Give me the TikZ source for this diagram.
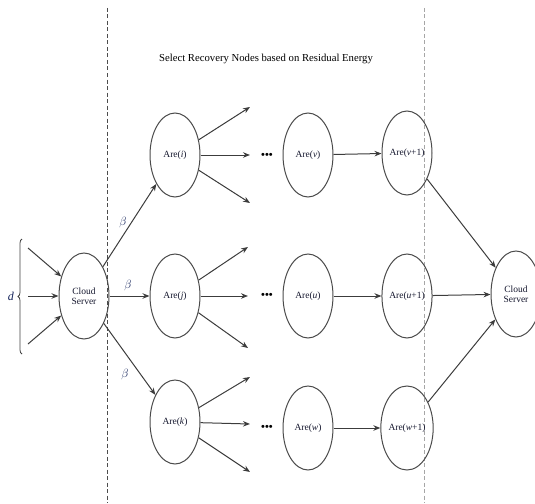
\documentclass[tikz,border=0pt]{standalone}
\usepackage{fontspec}
\setmainfont{Liberation Serif}
\usetikzlibrary{shapes.geometric,arrows.meta,decorations.pathreplacing}
\definecolor{txt}{RGB}{20,22,45}
\definecolor{lbl}{RGB}{20,35,90}
\definecolor{edge}{RGB}{60,60,60}
\definecolor{rim}{RGB}{75,75,75}
\begin{document}
\begin{tikzpicture}[x=1pt,y=-1pt,
  area/.style={draw=rim,line width=1pt,ellipse,minimum width=50pt,minimum height=84pt,inner sep=0pt,
    text=txt,font=\fontsize{9.5}{10.5}\selectfont},
  server/.style={area,align=center,minimum height=86pt,minimum width=50pt},
  arr/.style={draw=edge,line width=1pt,-{Stealth[length=7pt,width=5.5pt]}},
  divider/.style={dashed,dash pattern=on 4pt off 2.5pt,line width=0.9pt},
  beta/.style={text=lbl,font=\fontsize{12.5}{12}\selectfont,inner sep=0pt},
  dots/.style={text=black,font=\fontsize{11}{11}\selectfont\bfseries,inner sep=0pt}]
\useasboundingbox (0,0) rectangle (535,503);

% dashed dividers around the recovery region
\coordinate (l1) at (107,8);  \coordinate (l2) at (107,503);
\coordinate (r1) at (424,8);  \coordinate (r2) at (424,503);
\draw[divider,draw=black!70] (l1) -- (l2);
\draw[divider,draw=black!35] (r1) -- (r2);

% heading
\node[text=black,font=\fontsize{10.7}{12}\selectfont] (title) at (266,59) {Select Recovery Nodes based on Residual Energy};

% cloud servers
\node[server] (cs1) at (84,296) {Cloud\\Server};
\node[server] (cs2) at (516,294) {Cloud\\Server};

% area nodes
\node[area] (ai)  at (175,155) {Are(\textit{i})};
\node[area] (av)  at (308,155) {Are(\textit{v})};
\node[area] (av1) at (407,153) {Are(\textit{v}+1)};
\node[area] (aj)  at (175,296) {Are(\textit{j})};
\node[area] (au)  at (308,296) {Are(\textit{u})};
\node[area] (au1) at (407,296) {Are(\textit{u}+1)};
\node[area] (ak)  at (175,422) {Are(\textit{k})};
\node[area] (aw)  at (308,428) {Are(\textit{w})};
\node[area] (aw1) at (407,428) {Are(\textit{w}+1)};

% ellipsis marks
\node[dots] (d1) at (267,156) {\textbullet\textbullet\textbullet};
\node[dots] (d2) at (267,296) {\textbullet\textbullet\textbullet};
\node[dots] (d3) at (267,428) {\textbullet\textbullet\textbullet};

% incoming data d
\coordinate (in1) at (28,248);
\coordinate (in2) at (28,296);
\coordinate (in3) at (28,344);
\draw[arr] (in1) -- (cs1);
\draw[arr] (in2) -- (cs1);
\draw[arr] (in3) -- (cs1);
\coordinate (b1) at (22,354);
\coordinate (b2) at (22,239);
\draw[black!75,line width=0.8pt,decorate,decoration={brace,amplitude=4pt}] (b1) -- (b2);
\node[beta,font=\fontsize{12}{12}\selectfont\itshape] (d) at (11,296) {d};

% dispatch from the cloud server
\draw[arr] (cs1) -- (ai);
\draw[arr] (cs1) -- (aj);
\draw[arr] (cs1) -- (ak);
\node[beta] (bt1) at (123,222) {$\beta$};
\node[beta] (bt2) at (128,285) {$\beta$};
\node[beta] (bt3) at (125,374) {$\beta$};

% fan-out from each first area
\coordinate (fi1) at (250,107); \coordinate (fi2) at (250,155); \coordinate (fi3) at (250,203);
\coordinate (fj1) at (248,247); \coordinate (fj2) at (248,296); \coordinate (fj3) at (248,348);
\coordinate (fk1) at (250,377); \coordinate (fk2) at (250,424); \coordinate (fk3) at (250,472);
\foreach \s/\t in {ai/fi1,ai/fi2,ai/fi3,aj/fj1,aj/fj2,aj/fj3,ak/fk1,ak/fk2,ak/fk3}
  \draw[arr] (\s) -- (\t);

% chain to the last areas
\draw[arr] (av) -- (av1);
\draw[arr] (au) -- (au1);
\draw[arr] (aw) -- (aw1);

% collection at the cloud server
\draw[arr] (av1) -- (cs2);
\draw[arr] (au1) -- (cs2);
\draw[arr] (aw1) -- (cs2);
\end{tikzpicture}
\end{document}
